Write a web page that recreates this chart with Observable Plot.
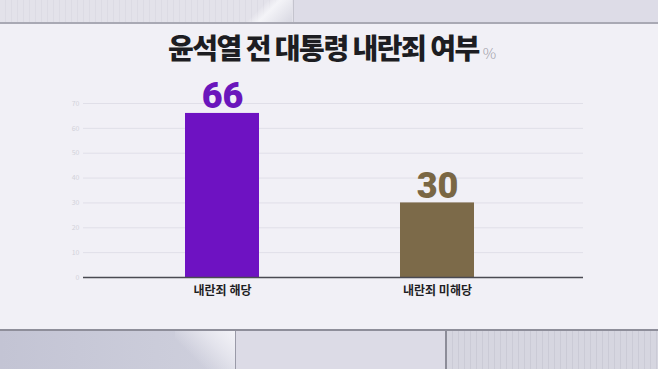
<!DOCTYPE html>
<html><head><meta charset="utf-8">
<script src="https://cdn.jsdelivr.net/npm/d3@7"></script>
<script src="https://cdn.jsdelivr.net/npm/@observablehq/plot@0.6"></script>
<style>
html,body{margin:0;padding:0;}
#wrap{position:relative;width:658px;height:369px;overflow:hidden;background:#f1f0f6;font-family:"Noto Sans CJK KR",sans-serif;}
.bg{position:absolute;}
#title{position:absolute;left:168px;top:29px;white-space:nowrap;font-family:"Noto Sans CJK KR";font-weight:900;font-size:28px;letter-spacing:-1.5px;color:#1d1d22;line-height:36px;}
#title span{font-size:15px;font-weight:300;color:#a2a2aa;letter-spacing:0;margin-left:4px;}
#chart{position:absolute;left:0;top:0;}
</style></head>
<body>
<div id="wrap">
  <div class="bg" style="left:0;top:0;width:293px;height:22px;background:repeating-linear-gradient(90deg,#e3e2ea 0 5px,#dcdbe4 5px 6px),#e0dfe8;"></div>
  <div class="bg" style="left:230px;top:0;width:62px;height:22px;background:linear-gradient(135deg,rgba(255,255,255,0) 45%,#f4f4f8 60%,#d8d8e2 100%);"></div>
  <div class="bg" style="left:293px;top:0;width:365px;height:22px;background:#dddce7;border-left:1px solid #c4c4ce;"></div>
  <div class="bg" style="left:0;top:22px;width:658px;height:2px;background:#a9a9b4;"></div>
  <div class="bg" style="left:0;top:329px;width:658px;height:2px;background:#8e8e9a;"></div>
  <div class="bg" style="left:0;top:331px;width:235px;height:38px;background:linear-gradient(90deg,#c3c4d4,#cfd0dd);"></div>
  <div class="bg" style="left:175px;top:331px;width:60px;height:38px;background:linear-gradient(225deg,#f3f3f8 0%,#e6e6ee 30%,rgba(210,210,222,0) 70%);"></div>
  <div class="bg" style="left:235px;top:331px;width:210px;height:38px;background:#dcdbe6;border-left:1px solid #9a9aa8;"></div>
  <div class="bg" style="left:445px;top:331px;width:213px;height:38px;background:repeating-linear-gradient(90deg,#d6d6e0 0 5px,#cbcbd6 5px 6px);border-left:2px solid #8c8c98;"></div>
  <div id="title">윤석열 전 대통령 내란죄 여부<span>%</span></div>
  <div id="chart"></div>
</div>
<script>
const categories = ["내란죄 해당", "내란죄 미해당"];
const values = [66, 30];
const yTicks = [0, 10, 20, 30, 40, 50, 60, 70];
const barColors = ["#6e12c2", "#7c6a49"];
const labelColors = ["#6a16bc", "#7a6744"];

const data = categories.map((c, i) => ({category: c, value: values[i], bar: barColors[i], label: labelColors[i]}));

const chart = Plot.plot({
  width: 658,
  height: 369,
  marginLeft: 83,
  marginRight: 75,
  marginTop: 103,
  marginBottom: 92,
  style: {background: "transparent", fontFamily: "'Noto Sans CJK KR', sans-serif", overflow: "visible"},
  x: {domain: categories, range: [184, 474], paddingInner: 0.657, paddingOuter: 0, label: null},
  y: {domain: [0, 70], label: null},
  marks: [
    Plot.gridY(yTicks.filter(d => d > 0), {stroke: "#e0dfe8", strokeOpacity: 1, strokeWidth: 1}),
    Plot.axisY(yTicks, {tickSize: 0, tickPadding: 4, fontSize: 7, fill: "#d2d2da", label: null}),
    Plot.barY(data, {x: "category", y: "value", fill: d => d.bar}),
    Plot.ruleY([0], {stroke: "#4a4a52", strokeWidth: 1.6}),
    Plot.axisX({tickSize: 0, tickPadding: 9, fontSize: 12, fontWeight: "bold", fill: "#1f1f24", label: null}),
    Plot.text(data, {x: "category", y: "value", text: d => String(d.value), fill: d => d.label, fontSize: 36, fontWeight: 900, fontFamily: "Roboto, sans-serif", letterSpacing: -1, lineAnchor: "bottom", dy: -5})
  ]
});
document.getElementById("chart").appendChild(chart);
</script>
</body></html>
